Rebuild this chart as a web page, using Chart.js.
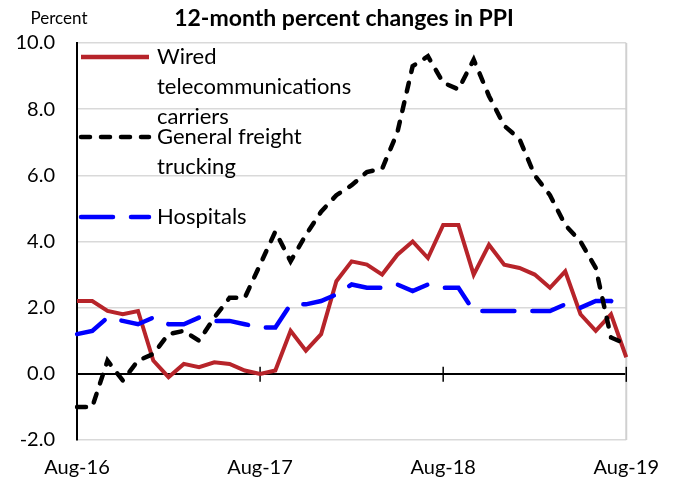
<!DOCTYPE html>
<html>
<head>
<meta charset="utf-8">
<script src="https://cdn.jsdelivr.net/npm/chart.js@4.4.1/dist/chart.umd.min.js"></script>
<style>
  html, body { margin: 0; padding: 0; background: #fff; }
  canvas { display: block; }
</style>
</head>
<body>
<canvas id="ppi" width="675" height="480"></canvas>
<script>
// data
const months = [
  'Aug-16', 'Sep-16', 'Oct-16', 'Nov-16', 'Dec-16', 'Jan-17', 'Feb-17', 'Mar-17', 'Apr-17', 'May-17', 'Jun-17', 'Jul-17',
  'Aug-17', 'Sep-17', 'Oct-17', 'Nov-17', 'Dec-17', 'Jan-18', 'Feb-18', 'Mar-18', 'Apr-18', 'May-18', 'Jun-18', 'Jul-18',
  'Aug-18', 'Sep-18', 'Oct-18', 'Nov-18', 'Dec-18', 'Jan-19', 'Feb-19', 'Mar-19', 'Apr-19', 'May-19', 'Jun-19', 'Jul-19',
  'Aug-19'
]
const shownMonths = ['Aug-16', 'Aug-17', 'Aug-18', 'Aug-19']

const wired = [2.2, 2.2, 1.9, 1.8, 1.9, 0.4, -0.1, 0.3, 0.2, 0.35, 0.3, 0.1,
  0.0, 0.1, 1.3, 0.7, 1.2, 2.8, 3.4, 3.3, 3.0, 3.6, 4.0, 3.5,
  4.5, 4.5, 3.0, 3.9, 3.3, 3.2, 3.0, 2.6, 3.1, 1.8, 1.3, 1.8, 0.5]
const trucking = [-1.0, -1.0, 0.4, -0.2, 0.4, 0.6, 1.2, 1.3, 1.0, 1.7, 2.3, 2.3,
  3.3, 4.3, 3.4, 4.2, 4.9, 5.4, 5.7, 6.1, 6.2, 7.3, 9.3, 9.6,
  8.8, 8.6, 9.5, 8.4, 7.5, 7.1, 6.0, 5.4, 4.5, 4.0, 3.2, 1.1, 0.9]
const hospitals = [1.2, 1.3, 1.7, 1.6, 1.5, 1.7, 1.5, 1.5, 1.7, 1.6, 1.6, 1.5,
  1.4, 1.4, 2.1, 2.1, 2.2, 2.4, 2.7, 2.6, 2.6, 2.7, 2.5, 2.7,
  2.6, 2.6, 1.9, 1.9, 1.9, 1.9, 1.9, 1.9, 2.1, 2.0, 2.2, 2.2, 2.0]

const yMin = -2
const yMax = 10
const yStep = 2

const FONT = 'Lato, "Open Sans", sans-serif'
const RED = '#B7242A'
const BLUE = '#0000FF'

// legend entries (label lines, drawn inside the plot)
const legendItems = [
  { lines: ['Wired', 'telecommunications', 'carriers'], color: RED, dash: [], cap: 'butt' },
  { lines: ['General freight', 'trucking'], color: '#000', dash: [9, 11], cap: 'round' },
  { lines: ['Hospitals'], color: BLUE, dash: [32, 18], cap: 'round' }
]

// plugins
const frame = {
  id: 'frame',
  beforeDatasetsDraw(chart) {
    const { ctx, chartArea: a, scales: { x, y } } = chart
    ctx.save()
    // right border
    ctx.strokeStyle = '#d0d0d0'
    ctx.lineWidth = 2
    ctx.beginPath()
    ctx.moveTo(a.right, a.top)
    ctx.lineTo(a.right, a.bottom)
    ctx.stroke()
    // tick marks on zero line
    const y0 = y.getPixelForValue(0)
    ctx.strokeStyle = '#000'
    ctx.lineWidth = 1.5
    months.forEach((m, i) => {
      if (i > 0 && shownMonths.includes(m)) {
        const px = x.getPixelForValue(i)
        ctx.beginPath()
        ctx.moveTo(px, y0 - 7)
        ctx.lineTo(px, y0 + 8)
        ctx.stroke()
      }
    })
    ctx.restore()
  },
  afterDraw(chart) {
    const { ctx, chartArea: a } = chart
    ctx.save()
    // title + unit
    ctx.fillStyle = '#000'
    ctx.textBaseline = 'middle'
    ctx.textAlign = 'center'
    ctx.font = `bold 23px ${FONT}`
    ctx.fillText('12-month percent changes in PPI', 344, 19)
    ctx.font = `17px ${FONT}`
    ctx.fillText('Percent', 59, 19)

    // legend
    const sampleY = [14, 94, 174]
    ctx.textAlign = 'left'
    ctx.font = `22px ${FONT}`
    legendItems.forEach((item, k) => {
      const ly = a.top + sampleY[k]
      ctx.strokeStyle = item.color
      ctx.lineWidth = 4.5
      ctx.lineCap = item.cap
      ctx.setLineDash(item.dash)
      ctx.beginPath()
      ctx.moveTo(a.left + 4, ly)
      ctx.lineTo(a.left + 72, ly)
      ctx.stroke()
      ctx.setLineDash([])
      ctx.fillStyle = '#000'
      item.lines.forEach((t, j) => {
        ctx.fillText(t, a.left + 80, ly + j * 30)
      })
    })
    ctx.restore()
  }
}

const chart = new Chart(document.querySelector('#ppi'), {
  type: 'line',
  data: {
    labels: months,
    datasets: [
      {
        label: 'Wired telecommunications carriers',
        data: wired,
        borderColor: RED,
        borderWidth: 4,
        borderJoinStyle: 'miter',
        pointRadius: 0,
        tension: 0,
        order: 3
      },
      {
        label: 'General freight trucking',
        data: trucking,
        borderColor: '#000',
        borderWidth: 4.5,
        borderDash: [9, 11],
        borderCapStyle: 'round',
        pointRadius: 0,
        tension: 0,
        order: 1
      },
      {
        label: 'Hospitals',
        data: hospitals,
        borderColor: BLUE,
        borderWidth: 4.5,
        borderDash: [32, 18],
        borderCapStyle: 'round',
        pointRadius: 0,
        tension: 0,
        order: 2
      }
    ]
  },
  options: {
    responsive: false,
    animation: false,
    devicePixelRatio: 1,
    layout: { padding: { top: 43, right: 48, left: 0, bottom: 0 } },
    plugins: {
      legend: { display: false },
      title: { display: false },
      tooltip: { enabled: false }
    },
    scales: {
      x: {
        type: 'category',
        offset: false,
        grid: { display: false, drawTicks: false },
        border: { display: false },
        ticks: {
          autoSkip: false,
          maxRotation: 0,
          minRotation: 0,
          padding: 16,
          color: '#000',
          font: { family: FONT, size: 20 },
          callback: (v, i) => shownMonths.includes(months[i]) ? months[i] : ''
        },
        afterFit: s => { s.height = 40 }
      },
      y: {
        min: yMin,
        max: yMax,
        grid: {
          drawTicks: false,
          color: c => c.tick && c.tick.value === 0 ? '#000' : '#d9d9d9',
          lineWidth: c => c.tick && c.tick.value === 0 ? 2 : 1.5
        },
        border: { display: true, color: '#000', width: 2 },
        ticks: {
          stepSize: yStep,
          padding: 22,
          color: '#000',
          font: { family: FONT, size: 20 },
          callback: v => v.toFixed(1)
        },
        afterFit: s => { s.width = 77 }
      }
    }
  },
  plugins: [frame]
})
</script>
</body>
</html>
